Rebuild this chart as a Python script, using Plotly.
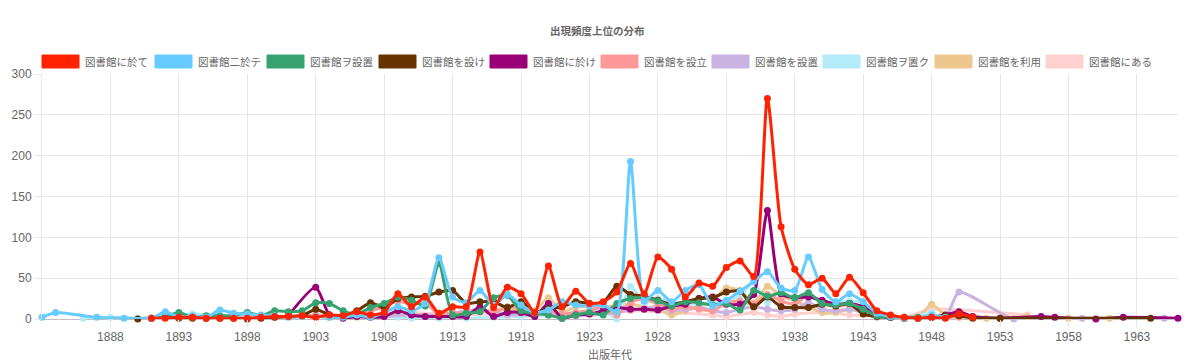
import plotly.graph_objects as go

# ---------------- data ----------------
series_names = ["図書館に於て", "図書館二於テ", "図書館ヲ設置", "図書館を設け", "図書館に於け",
                "図書館を設立", "図書館を設置", "図書館ヲ置ク", "図書館を利用", "図書館にある"]

red_years = list(range(1891, 1952))
red_vals = [1, 1, 2, 2, 1, 1, 1, 1, 2, 3, 3, 4, 2, 5, 4, 9, 5, 8, 31, 15,
            27, 7, 15, 15, 82, 14, 39, 31, 8, 65, 15, 34, 19, 21, 33, 68, 31, 76, 61, 27,
            44, 40, 63, 71, 52, 270, 113, 61, 42, 50, 31, 51, 32, 10, 5, 2, 1, 2, 1, 6, 2]

blue_years = [1883, 1884, 1887, 1889] + list(range(1891, 1950))
blue_vals = [2, 8, 2, 1,
             1, 9, 2, 4, 2, 11, 7, 6, 5, 4, 2, 3, 3, 2, 2, 5, 2, 8, 15, 10,
             19, 75, 27, 20, 35, 17, 30, 17, 8, 11, 21, 17, 16, 17, 9, 193, 22, 35, 21, 35,
             42, 16, 23, 34, 46, 58, 38, 35, 76, 36, 21, 31, 21, 7, 3, 1, 1, 5, 2]

green_years = list(range(1891, 1948))
green_vals = [1, 3, 8, 2, 4, 4, 4, 8, 4, 10, 9, 10, 20, 19, 10, 6, 14, 19, 27, 23,
              16, 68, 5, 7, 9, 26, 29, 10, 7, 5, 1, 5, 8, 5, 19, 25, 26, 22, 16, 21,
              20, 17, 19, 11, 35, 28, 32, 26, 32, 19, 17, 19, 12, 4, 2, 2, 2]

brown_years = list(range(1890, 1952)) + [1953, 1964]
brown_vals = [0, 1, 2, 1, 1, 1, 1, 1, 0, 1, 2, 3, 4, 12, 5, 4, 10, 20, 14, 25,
              27, 28, 33, 35, 19, 21, 21, 14, 21, 8, 13, 15, 21, 19, 20, 40, 30, 28, 23, 18,
              21, 25, 26, 33, 34, 15, 27, 15, 14, 14, 18, 16, 19, 6, 3, 2, 1, 1, 2, 4,
              4, 1, 1, 1]

purple_years = [1901] + list(range(1903, 1952)) + [1953, 1956, 1957, 1960, 1962, 1966]
purple_vals = [4, 39, 5, 1, 3, 2, 3, 10, 5, 3, 3, 3, 3, 15, 3, 8, 8, 3, 19, 1,
               5, 6, 10, 14, 12, 12, 11, 16, 18, 25, 27, 18, 18, 30, 133, 31, 26, 27, 23, 18,
               19, 15, 5, 2, 1, 1, 2, 5, 9, 3,
               1, 3, 2, 0, 2, 1]

pink_years = [1900, 1902, 1903, 1904, 1906, 1907, 1908, 1909, 1910, 1911, 1912, 1913, 1914,
              1915, 1916, 1917, 1918, 1919, 1920, 1921, 1922, 1923, 1924, 1925, 1926, 1927,
              1928, 1929, 1930, 1931, 1932, 1933, 1934, 1935, 1936, 1937, 1938, 1939, 1940,
              1941, 1942, 1943, 1944, 1945, 1948, 1950]
pink_vals = [2, 3, 5, 3, 5, 10, 15, 22, 18, 20, 5, 8, 7, 10, 8, 15, 12, 5, 10, 6, 8, 10,
             15, 5, 20, 25, 18, 12, 15, 12, 10, 20, 22, 18, 30, 22, 18, 30, 20, 15, 18, 12,
             5, 2, 3, 2]

lav_years = [1904, 1908, 1910, 1912, 1914, 1915, 1917, 1920, 1922, 1925, 1928, 1929, 1930,
             1931, 1932, 1933, 1934, 1935, 1936, 1937, 1938, 1939, 1940, 1941, 1942, 1943,
             1944, 1949, 1950, 1954, 1959, 1965]
lav_vals = [2, 3, 5, 5, 10, 12, 5, 6, 4, 8, 15, 10, 12, 15, 10, 8, 12, 15, 12, 10, 12,
            20, 12, 10, 12, 8, 2, 3, 33, 0, 1, 1]

lblue_years = [1886, 1888, 1890, 1894, 1897, 1908, 1909, 1910, 1912, 1914, 1916, 1918,
               1920, 1922, 1924, 1925, 1926, 1927, 1928, 1930, 1932, 1934, 1935, 1936,
               1937, 1938, 1939, 1940, 1942, 1943, 1944, 1946, 1948]
lblue_vals = [1, 2, 1, 6, 3, 3, 2, 1, 1, 1, 2, 3, 5, 8, 12, 0, 40, 20, 25, 18, 20, 28,
              45, 20, 35, 22, 30, 18, 22, 20, 8, 2, 8]

tan_years = [1906, 1908, 1910, 1912, 1914, 1916, 1918, 1919, 1920, 1921, 1922, 1924, 1926,
             1927, 1928, 1929, 1930, 1931, 1932, 1933, 1934, 1935, 1936, 1937, 1938, 1939,
             1940, 1941, 1942, 1943, 1944, 1946, 1947, 1948, 1949, 1952, 1955, 1958, 1961]
tan_vals = [2, 5, 6, 4, 8, 10, 12, 10, 26, 8, 15, 15, 18, 15, 12, 5, 10, 15, 22, 38, 35,
            20, 40, 28, 22, 15, 8, 8, 12, 10, 3, 1, 2, 18, 5, 1, 3, 1, 1]

lpink_years = [1903, 1906, 1910, 1913, 1916, 1920, 1923, 1926, 1929, 1932, 1933, 1935,
               1936, 1937, 1938, 1940, 1942, 1944, 1946, 1948, 1955]
lpink_vals = [5, 3, 8, 5, 6, 4, 6, 10, 8, 5, 3, 8, 5, 3, 6, 8, 5, 3, 2, 12, 5]

all_years = [red_years, blue_years, green_years, brown_years, purple_years,
             pink_years, lav_years, lblue_years, tan_years, lpink_years]
all_vals = [red_vals, blue_vals, green_vals, brown_vals, purple_vals,
            pink_vals, lav_vals, lblue_vals, tan_vals, lpink_vals]

x_tick_labels = list(range(1888, 1964, 5))
y_tick_values = [0, 50, 100, 150, 200, 250, 300]

# ---------------- style ----------------
colors = ["#ff2200", "#66ccff", "#36a270", "#663300", "#990077",
          "#ff9999", "#c9b3e0", "#b3ebf8", "#eec78f", "#ffd0d0"]
FONT = "Liberation Sans, Arial, Noto Sans CJK JP, sans-serif"
CJK = "Noto Sans CJK JP, sans-serif"
W, H = 1200, 362
L, R, T, B = 42, 22, 74, 43

fig = go.Figure()
# Chart.js draws first dataset on top -> add in reverse order
for i in reversed(range(len(series_names))):
    fig.add_trace(go.Scatter(
        x=all_years[i], y=all_vals[i], name=series_names[i],
        mode="lines+markers",
        line=dict(color=colors[i], width=3, shape="spline", smoothing=0.6),
        marker=dict(color=colors[i], size=7),
        cliponaxis=False, showlegend=False,
    ))

# manual Chart.js-like legend
plot_w = W - L - R
plot_h = H - T - B
def px_x(px):
    return (px - L) / plot_w
def px_y(py):
    return (H - B - py) / plot_h

legend_x = [42, 155, 267, 379, 490, 601, 712, 823, 935, 1046]
shapes = []
annotations = []
for i, name in enumerate(series_names):
    x0 = legend_x[i]
    shapes.append(dict(type="rect", xref="paper", yref="paper",
                       x0=px_x(x0), x1=px_x(x0 + 37), y0=px_y(68), y1=px_y(55),
                       fillcolor=colors[i], line=dict(color=colors[i], width=1)))
    annotations.append(dict(text=name, xref="paper", yref="paper",
                            x=px_x(x0 + 41), y=px_y(61.5), xanchor="left", yanchor="middle",
                            showarrow=False, font=dict(family=CJK, size=10.5, color="#666666")))

annotations.append(dict(text="<b>出現頻度上位の分布</b>", xref="paper", yref="paper",
                        x=px_x(597), y=px_y(31), xanchor="center", yanchor="middle",
                        showarrow=False, font=dict(family=CJK, size=10.5, color="#666666")))
annotations.append(dict(text="出版年代", xref="paper", yref="paper",
                        x=px_x(610), y=px_y(354), xanchor="center", yanchor="middle",
                        showarrow=False, font=dict(family=CJK, size=11, color="#666666")))

fig.update_layout(
    width=W, height=H,
    margin=dict(l=L, r=R, t=T, b=B, autoexpand=False),
    paper_bgcolor="white", plot_bgcolor="white",
    showlegend=False,
    font=dict(family=FONT, size=12, color="#666666"),
    shapes=shapes, annotations=annotations,
    xaxis=dict(range=[1883, 1966], tickmode="array", tickvals=x_tick_labels,
               ticktext=[str(v) for v in x_tick_labels], automargin=False,
               showgrid=True, gridcolor="#e6e6e6", gridwidth=1,
               ticks="outside", ticklen=7, tickcolor="#e6e6e6",
               zeroline=False, showline=False,
               tickfont=dict(family=FONT, size=12, color="#666666")),
    yaxis=dict(range=[0, 300], tickmode="array", tickvals=y_tick_values, automargin=False,
               showgrid=True, gridcolor="#e6e6e6", gridwidth=1,
               ticks="outside", ticklen=7, tickcolor="#e6e6e6",
               zeroline=True, zerolinecolor="#bfbfbf", zerolinewidth=1,
               showline=True, linecolor="#e6e6e6", linewidth=1,
               tickfont=dict(family=FONT, size=12, color="#666666")),
)

fig.write_html("out.html", config={"displayModeBar": False},
               post_script="document.body.style.margin='0px';")
